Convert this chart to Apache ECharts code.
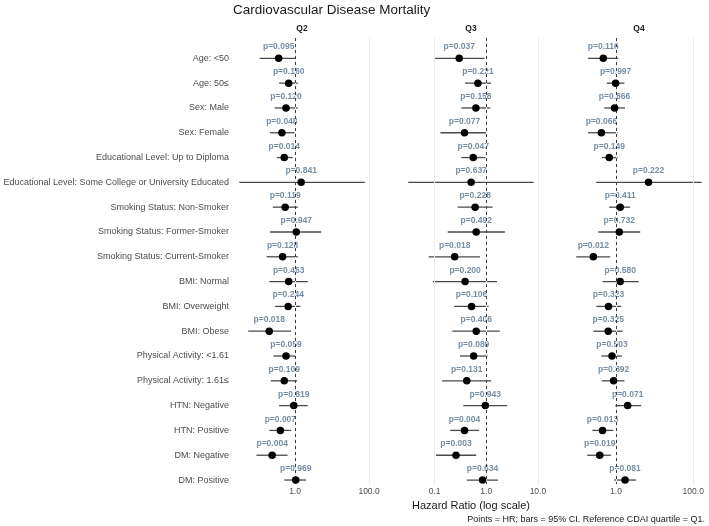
<!DOCTYPE html>
<html>
<head>
<meta charset="utf-8">
<title>Cardiovascular Disease Mortality</title>
<script src="https://cdn.jsdelivr.net/npm/echarts@6/dist/echarts.min.js"></script>
<style>
  html, body { margin: 0; padding: 0; background: #fff; }
  #chart { width: 709px; height: 526px; }
</style>
</head>
<body>
<div id="chart"></div>
<script>
// subgroup rows, top to bottom
const rowLabels = [
    'Age: <50', 'Age: 50≤', 'Sex: Male', 'Sex: Female',
    'Educational Level: Up to Diploma',
    'Educational Level: Some College or University Educated',
    'Smoking Status: Non-Smoker', 'Smoking Status: Former-Smoker', 'Smoking Status: Current-Smoker',
    'BMI: Normal', 'BMI: Overweight', 'BMI: Obese',
    'Physical Activity: <1.61', 'Physical Activity: 1.61≤',
    'HTN: Negative', 'HTN: Positive', 'DM: Negative', 'DM: Positive'
];

// Q2 vs Q1
const q2Hr = [0.36, 0.67, 0.57, 0.44, 0.51, 1.46, 0.54, 1.08, 0.46, 0.67, 0.65, 0.20, 0.57, 0.51, 0.92, 0.40, 0.24, 1.04];
const q2Lo = [0.11, 0.37, 0.28, 0.21, 0.32, 0.031, 0.25, 0.21, 0.17, 0.20, 0.29, 0.054, 0.26, 0.22, 0.37, 0.20, 0.09, 0.51];
const q2Hi = [1.05, 1.18, 1.18, 0.97, 0.86, 76.4, 1.18, 5.1, 1.18, 2.2, 1.39, 0.78, 1.02, 1.13, 2.2, 0.78, 0.63, 1.99];
const q2P = ['0.095', '0.160', '0.120', '0.048', '0.014', '0.841', '0.119', '0.947', '0.128', '0.463', '0.244', '0.018', '0.059', '0.109', '0.819', '0.007', '0.004', '0.969'];

// Q3 vs Q1
const q3Hr = [0.30, 0.69, 0.63, 0.38, 0.56, 0.51, 0.61, 0.64, 0.245, 0.39, 0.52, 0.64, 0.57, 0.42, 0.96, 0.38, 0.26, 0.85];
const q3Lo = [0.099, 0.39, 0.33, 0.13, 0.33, 0.031, 0.28, 0.18, 0.077, 0.092, 0.24, 0.22, 0.31, 0.14, 0.36, 0.20, 0.107, 0.42];
const q3Hi = [0.93, 1.24, 1.2, 1.03, 0.96, 8.3, 1.33, 2.29, 0.76, 1.62, 1.11, 1.83, 1.06, 1.25, 2.55, 0.73, 0.64, 1.7];
const q3P = ['0.037', '0.221', '0.158', '0.077', '0.047', '0.637', '0.228', '0.492', '0.018', '0.200', '0.106', '0.406', '0.089', '0.131', '0.943', '0.004', '0.003', '0.634'];

// Q4 vs Q1
const q4Hr = [0.47, 0.98, 0.92, 0.42, 0.67, 6.97, 1.29, 1.22, 0.26, 1.29, 0.64, 0.63, 0.79, 0.87, 2.01, 0.45, 0.38, 1.72];
const q4Lo = [0.19, 0.58, 0.50, 0.19, 0.43, 0.31, 0.67, 0.35, 0.094, 0.45, 0.31, 0.26, 0.42, 0.43, 0.96, 0.245, 0.18, 0.90];
const q4Hi = [1.15, 1.65, 1.72, 1.10, 1.10, 166, 2.32, 4.24, 0.71, 3.89, 1.37, 1.49, 1.43, 1.65, 4.5, 0.85, 0.74, 3.33];
const q4P = ['0.116', '0.997', '0.866', '0.066', '0.149', '0.222', '0.411', '0.732', '0.012', '0.580', '0.323', '0.325', '0.503', '0.892', '0.071', '0.013', '0.019', '0.081'];

// axis breaks per facet
const q2Ticks = [1, 100];
const q3Ticks = [0.1, 1, 10];
const q4Ticks = [1, 100];
const refHr = 1;

const FONT = '"Liberation Sans", Arial, sans-serif';

const panels = [
    { name: 'Q2', hr: q2Hr, lo: q2Lo, hi: q2Hi, p: q2P, ticks: q2Ticks, left: 233 },
    { name: 'Q3', hr: q3Hr, lo: q3Lo, hi: q3Hi, p: q3P, ticks: q3Ticks, left: 402 },
    { name: 'Q4', hr: q4Hr, lo: q4Lo, hi: q4Hi, p: q4P, ticks: q4Ticks, left: 570 }
];
const panelW = 138;
const gridTop = 38, gridH = 446;

// log-range with 5% padding like ggplot
function logRange(lo, hi) {
    const a = Math.log10(Math.min(...lo));
    const b = Math.log10(Math.max(...hi));
    const pad = (b - a) * 0.05;
    return [Math.pow(10, a - pad), Math.pow(10, b + pad)];
}

const grids = [], xAxes = [], yAxes = [], series = [], graphics = [];

panels.forEach((p, i) => {
    grids.push({ left: p.left, top: gridTop, width: panelW, height: gridH });
    const range = logRange(p.lo, p.hi);
    xAxes.push({
        type: 'log', logBase: 10, gridIndex: i, min: range[0], max: range[1],
        axisLine: { show: false }, axisTick: { show: false }, splitLine: { show: false },
        axisLabel: {
            customValues: p.ticks, formatter: v => Number(v).toFixed(1),
            margin: 3, fontSize: 8.5, color: '#4d4d4d', fontFamily: FONT
        },
        name: i === 1 ? 'Hazard Ratio (log scale)' : '',
        nameLocation: 'middle', nameGap: 13,
        nameTextStyle: { fontSize: 11, color: '#1a1a1a', fontFamily: FONT }
    });
    yAxes.push({
        type: 'value', gridIndex: i, inverse: true, min: -0.82, max: 17.16,
        axisLine: { show: false }, axisTick: { show: false }, splitLine: { show: false },
        axisLabel: {
            show: i === 0,
            customValues: rowLabels.map((_, r) => r),
            formatter: v => rowLabels[Math.round(v)] || '',
            fontSize: 9, color: '#4d4d4d', margin: 4, fontFamily: FONT
        }
    });

    // confidence intervals + grid lines
    series.push({
        type: 'custom', xAxisIndex: i, yAxisIndex: i, z: 2,
        data: rowLabels.map((_, r) => [p.lo[r], p.hi[r], r]),
        encode: { x: [0, 1], y: 2 },
        renderItem: (params, api) => {
            const a = api.coord([api.value(0), api.value(2)]);
            const b = api.coord([api.value(1), api.value(2)]);
            return {
                type: 'line',
                shape: { x1: a[0], y1: a[1], x2: b[0], y2: b[1] },
                style: { stroke: '#4a4a4a', lineWidth: 1.3 }
            };
        },
        markLine: {
            silent: true, symbol: 'none', animation: false,
            label: { show: false },
            lineStyle: { color: '#ebebeb', width: 1, type: 'solid' },
            data: p.ticks.map(t => ({ xAxis: t }))
        }
    });

    // p-value labels (transparent symbols keep the label offset)
    series.push({
        type: 'scatter', xAxisIndex: i, yAxisIndex: i, z: 3,
        data: rowLabels.map((_, r) => [p.hr[r], r]),
        symbolSize: 7.5,
        itemStyle: { color: 'rgba(0,0,0,0)' },
        label: {
            show: true, position: 'top', distance: 3,
            formatter: d => 'p=' + p.p[d.dataIndex],
            color: '#52708f', fontSize: 8.5, fontWeight: 'bold', fontFamily: FONT
        }
    });

    // reference line at HR = 1
    series.push({
        type: 'scatter', xAxisIndex: i, yAxisIndex: i, z: 5, data: [],
        markLine: {
            silent: true, symbol: 'none', animation: false,
            label: { show: false },
            lineStyle: { color: '#3a3a3a', width: 1, type: [3, 3] },
            data: [{ xAxis: refHr }]
        }
    });

    // point estimates
    series.push({
        type: 'scatter', xAxisIndex: i, yAxisIndex: i, z: 8,
        data: rowLabels.map((_, r) => [p.hr[r], r]),
        symbolSize: 7.5,
        itemStyle: { color: '#000', opacity: 1 }
    });

    graphics.push({
        type: 'text', x: p.left + panelW / 2, y: 29,
        style: {
            text: p.name, align: 'center', verticalAlign: 'middle',
            fontSize: 8.5, fontWeight: 'bold', fill: '#1a1a1a', fontFamily: FONT
        }
    });
});

graphics.push({
    type: 'text', x: 705, y: 520,
    style: {
        text: 'Points = HR; bars = 95% CI. Reference CDAI quartile = Q1.',
        align: 'right', verticalAlign: 'middle',
        fontSize: 9, fill: '#1a1a1a', fontFamily: FONT
    }
});

const chart = echarts.init(document.getElementById('chart'));
chart.setOption({
    animation: false,
    backgroundColor: '#fff',
    title: {
        text: 'Cardiovascular Disease Mortality', left: 233, top: 3, padding: 0,
        textStyle: { fontSize: 13.5, fontWeight: 'normal', color: '#1a1a1a', fontFamily: FONT }
    },
    grid: grids,
    xAxis: xAxes,
    yAxis: yAxes,
    series: series,
    graphic: graphics
});
window.addEventListener('resize', () => chart.resize());
</script>
</body>
</html>
